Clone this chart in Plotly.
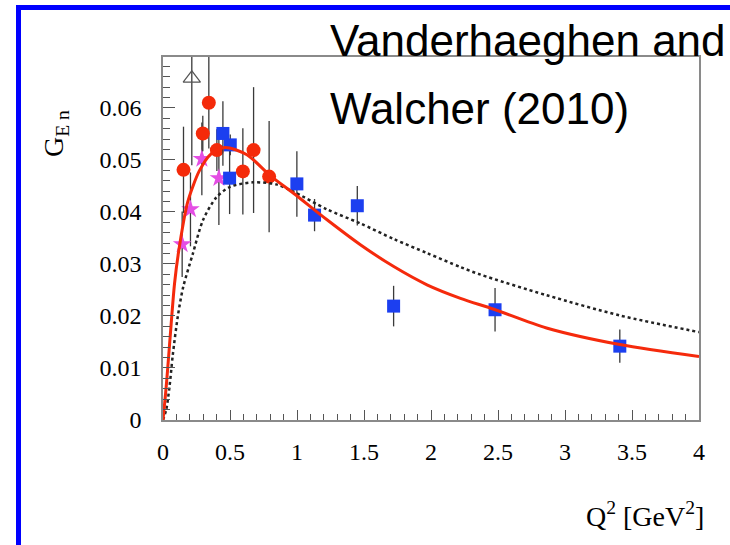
import plotly.graph_objects as go

# G_En of the neutron versus Q^2, several data sets plus two curves
q2_circles = [0.153, 0.297, 0.342, 0.402, 0.596, 0.676, 0.792]
gen_circles = [0.0481, 0.0551, 0.0610, 0.0519, 0.0478, 0.0519, 0.0468]
err_circles = [0.0083, 0.0034, 0.0088, 0.0040, 0.0083, 0.0121, 0.0107]

q2_squares = [0.447, 0.502, 0.497, 0.999, 1.131, 1.450, 1.721, 2.478, 3.409]
gen_squares = [0.0551, 0.0529, 0.0465, 0.0454, 0.0394, 0.0412, 0.0219, 0.0212, 0.0142]
err_squares = [0.0062, 0.0020, 0.0069, 0.0063, 0.0031, 0.0038, 0.0039, 0.0042, 0.0032]

q2_stars = [0.143, 0.205, 0.290, 0.417]
gen_stars = [0.0338, 0.0405, 0.0502, 0.0465]
err_stars = [0.0063, 0.0071, 0.0070, 0.0090]

q2_triangle = [0.215]
gen_triangle = [0.0657]
err_triangle = [0.0167]

# fitted curve (solid red)
fit_q2 = [0.0, 0.019, 0.036, 0.061, 0.086, 0.115, 0.182, 0.227, 0.271, 0.351,
          0.46, 0.626, 0.80, 0.974, 1.224, 1.473, 1.722, 1.97, 2.22, 2.47,
          2.862, 3.41, 4.0]
fit_gen = [0.0, 0.0050, 0.0102, 0.0185, 0.0262, 0.0321, 0.0417, 0.0452, 0.0479, 0.0510,
           0.0524, 0.0510, 0.0470, 0.0436, 0.0385, 0.0337, 0.0295, 0.0260, 0.0234, 0.0213,
           0.0177, 0.0145, 0.0122]

# model curve (dotted black)
model_q2 = [0.0, 0.024, 0.049, 0.073, 0.111, 0.150, 0.223, 0.298, 0.398, 0.497,
            0.671, 0.846, 0.974, 1.224, 1.473, 1.722, 1.97, 2.22, 2.364, 2.862,
            3.41, 4.0]
model_gen = [0.0, 0.0020, 0.0065, 0.0125, 0.0200, 0.0255, 0.0320, 0.0384, 0.0428, 0.0448,
             0.0457, 0.0453, 0.0439, 0.0405, 0.0378, 0.0348, 0.0321, 0.0294, 0.0280, 0.0240,
             0.0201, 0.0169]

x_tickvals = [0, 0.5, 1, 1.5, 2, 2.5, 3, 3.5, 4]
x_ticktext = ["0", "0.5", "1", "1.5", "2", "2.5", "3", "3.5", "4"]
y_tickvals = [0, 0.01, 0.02, 0.03, 0.04, 0.05, 0.06]
y_ticktext = ["0", "0.01", "0.02", "0.03", "0.04", "0.05", "0.06"]

W, H = 730, 545
ML, MR, MT, MB = 163, 31, 57, 125
PW, PH = W - ML - MR, H - MT - MB


def px(x):
    return (x - ML) / PW


def py(y):
    return (H - MB - y) / PH


SERIF = "Liberation Serif, Times New Roman, serif"
SANS = "Liberation Sans, Arial, sans-serif"
ERR_COLOR = "#3a3a3a"

fig = go.Figure()

fig.add_trace(go.Scatter(
    x=q2_triangle, y=gen_triangle, mode="markers",
    marker=dict(symbol="triangle-up-open", size=15, color="#555555",
                line=dict(width=1.2, color="#555555")),
    error_y=dict(type="data", array=err_triangle, color=ERR_COLOR,
                 thickness=1.3, width=0),
    showlegend=False))

fig.add_trace(go.Scatter(
    x=q2_stars, y=gen_stars, mode="markers",
    marker=dict(symbol="star", size=14, color="#e44ee4", line=dict(width=0)),
    error_y=dict(type="data", array=err_stars, color=ERR_COLOR,
                 thickness=1.3, width=0),
    showlegend=False))

fig.add_trace(go.Scatter(
    x=q2_circles, y=gen_circles, mode="markers",
    marker=dict(symbol="circle", size=14, color="#f42a0a", line=dict(width=0)),
    error_y=dict(type="data", array=err_circles, color=ERR_COLOR,
                 thickness=1.3, width=0),
    showlegend=False))

fig.add_trace(go.Scatter(
    x=q2_squares, y=gen_squares, mode="markers",
    marker=dict(symbol="square", size=13, color="#1c3ff0", line=dict(width=0)),
    error_y=dict(type="data", array=err_squares, color=ERR_COLOR,
                 thickness=1.3, width=0),
    showlegend=False))

fig.add_trace(go.Scatter(
    x=model_q2, y=model_gen, mode="lines",
    line=dict(color="#222222", width=2.5, dash="dot", shape="spline", smoothing=0.8),
    showlegend=False))

fig.add_trace(go.Scatter(
    x=fit_q2, y=fit_gen, mode="lines",
    line=dict(color="#f52a0c", width=3, shape="spline", smoothing=0.8),
    showlegend=False))

axis_common = dict(
    showline=True, linecolor="#8a8a8a", linewidth=1.5, mirror=True,
    showgrid=False, zeroline=False,
    ticks="inside", tickcolor="#555555", tickwidth=1.2,
    tickfont=dict(family=SERIF, size=24, color="black"),
)

fig.update_xaxes(
    range=[0, 4], tickvals=x_tickvals, ticktext=x_ticktext,
    ticklen=10, ticklabelstandoff=9,
    minor=dict(dtick=0.1, ticks="inside", ticklen=6, tickcolor="#555555", tickwidth=1.2),
    **axis_common)

fig.update_yaxes(
    range=[0, 0.0698], tickvals=y_tickvals, ticktext=y_ticktext,
    ticklen=12, ticklabelstandoff=15,
    minor=dict(dtick=0.002, ticks="inside", ticklen=7, tickcolor="#555555", tickwidth=1.2),
    **axis_common)

annotations = [
    dict(text="G<sub>E n</sub>", textangle=-90, x=px(55), y=py(134),
         xref="paper", yref="paper", showarrow=False,
         xanchor="center", yanchor="middle",
         font=dict(family=SERIF, size=28, color="black")),
    dict(text="Q<sup>2</sup> [GeV<sup>2</sup>]", x=px(706), y=py(514),
         xref="paper", yref="paper", showarrow=False,
         xanchor="right", yanchor="middle",
         font=dict(family=SERIF, size=28, color="black")),
    dict(text="Vanderhaeghen and", x=px(328), y=py(40),
         xref="paper", yref="paper", showarrow=False,
         xanchor="left", yanchor="middle",
         font=dict(family=SANS, size=44, color="black")),
    dict(text="Walcher (2010)", x=px(328), y=py(108),
         xref="paper", yref="paper", showarrow=False,
         xanchor="left", yanchor="middle",
         font=dict(family=SANS, size=44, color="black")),
]

# blue slide frame along the top and left edges
shapes = [
    dict(type="rect", xref="paper", yref="paper",
         x0=px(16), x1=px(21), y0=py(5), y1=py(H),
         fillcolor="#0000ff", line=dict(width=0), layer="above"),
    dict(type="rect", xref="paper", yref="paper",
         x0=px(16), x1=px(W), y0=py(5), y1=py(10),
         fillcolor="#0000ff", line=dict(width=0), layer="above"),
]

fig.update_layout(
    width=W, height=H,
    margin=dict(l=ML, r=MR, t=MT, b=MB),
    paper_bgcolor="white", plot_bgcolor="white",
    annotations=annotations, shapes=shapes,
    showlegend=False,
)

fig.write_html("out.html")
